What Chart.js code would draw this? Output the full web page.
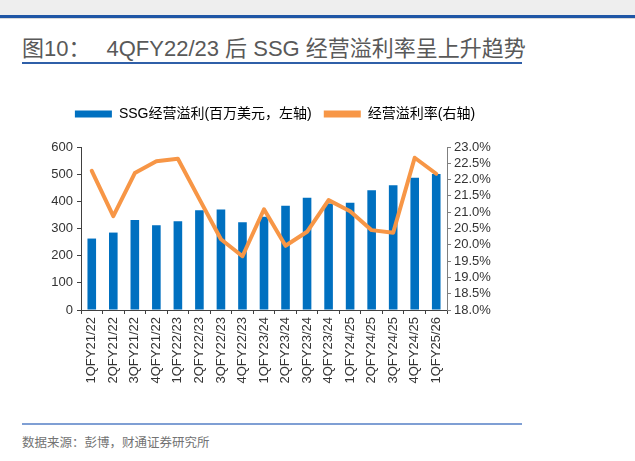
<!DOCTYPE html>
<html>
<head>
<meta charset="utf-8">
<script src="https://cdn.jsdelivr.net/npm/chart.js@4.4.1/dist/chart.umd.min.js"></script>
<style>
  body { margin: 0; width: 635px; height: 461px; background: #fff; position: relative; overflow: hidden;
         font-family: "Liberation Sans", Arial, "Noto Sans CJK SC", sans-serif; }
  #band { position: absolute; left: 0; top: 0; width: 635px; height: 15px; background: #eeeeee; }
  #bandLine { position: absolute; left: 0; top: 15px; width: 635px; height: 3px; background: #1f56a5; }
  #bandLine2 { position: absolute; left: 0; top: 18px; width: 635px; height: 1px; background: #d9d9d9; }
  #title { position: absolute; left: 22px; top: 30px; font-size: 22px; font-weight: normal; color: #595959; white-space: nowrap; }
  #title span { margin-left: 16px; }
  #titleLine { position: absolute; left: 22px; top: 62px; width: 500px; height: 2px; background: #2f5fa8; }
  #srcLine { position: absolute; left: 22px; top: 423px; width: 500px; height: 2px; background: #7f9fd4; }
  #src { position: absolute; left: 22px; top: 432px; font-size: 12.5px; color: #737373; font-family: "Noto Sans CJK SC", sans-serif; }
  #wrap { position: absolute; left: 0; top: 95px; width: 635px; height: 310px; }
</style>
</head>
<body>
<div id="band"></div>
<div id="bandLine"></div>
<div id="bandLine2"></div>
<div id="title">图10：<span>4QFY22/23 后 SSG 经营溢利率呈上升趋势</span></div>
<div id="titleLine"></div>
<div id="wrap"><canvas id="chart" width="635" height="310"></canvas></div>
<div id="srcLine"></div>
<div id="src">数据来源：彭博，财通证券研究所</div>
<script>
// quarters shown on the x axis
const quarters = ["1QFY21/22", "2QFY21/22", "3QFY21/22", "4QFY21/22",
  "1QFY22/23", "2QFY22/23", "3QFY22/23", "4QFY22/23",
  "1QFY23/24", "2QFY23/24", "3QFY23/24", "4QFY23/24",
  "1QFY24/25", "2QFY24/25", "3QFY24/25", "4QFY24/25", "1QFY25/26"];

// SSG operating profit, USD mn (left axis)
const opProfit = [263, 285, 331, 312, 327, 367, 370, 323, 343, 384, 413, 392, 395, 441, 459, 487, 501];

// operating margin, % (right axis)
const opMargin = [22.27, 20.88, 22.2, 22.56, 22.64, 21.4, 20.17, 19.65, 21.09, 19.97, 20.4, 21.37, 21.03, 20.45, 20.37, 22.67, 22.18];

const BLUE = "#0070c0";
const ORANGE = "#f79646";
const AXIS = "#404040";

Chart.defaults.font.family = "'Liberation Sans', Arial, 'Noto Sans CJK SC', sans-serif";
Chart.defaults.color = "#333";

// push the plot area down a bit below the legend
const legendGap = {
  id: "legendGap",
  beforeInit(chart) {
    const fit = chart.legend.fit;
    chart.legend.fit = function () {
      fit.call(this);
      this.height += 16;
    };
  },
};

const chart = new Chart(document.getElementById("chart"), {
  type: "bar",
  data: {
    labels: quarters,
    datasets: [
      {
        type: "bar",
        label: "SSG经营溢利(百万美元，左轴)",
        data: opProfit,
        backgroundColor: BLUE,
        yAxisID: "y",
        barPercentage: 0.4,
        categoryPercentage: 1,
        order: 1,
      },
      {
        type: "line",
        label: "经营溢利率(右轴)",
        data: opMargin,
        borderColor: ORANGE,
        backgroundColor: ORANGE,
        borderWidth: 4,
        pointRadius: 0,
        tension: 0,
        borderJoinStyle: "round",
        borderCapStyle: "round",
        yAxisID: "y1",
        order: 0,
      },
    ],
  },
  options: {
    responsive: false,
    animation: false,
    layout: { padding: { left: 28, right: 113, top: 0, bottom: 0 } },
    plugins: {
      tooltip: { enabled: false },
      legend: {
        position: "top",
        labels: {
          boxWidth: 37,
          boxHeight: 7,
          padding: 12,
          font: { size: 14, family: "'Liberation Sans', 'Noto Sans CJK SC', sans-serif" },
          color: "#333",
          sort: (a, b) => a.datasetIndex - b.datasetIndex,
          generateLabels: (c) => c.data.datasets.map((ds, i) => ({
            text: ds.label,
            fillStyle: ds.type === "line" ? ORANGE : BLUE,
            strokeStyle: ds.type === "line" ? ORANGE : BLUE,
            lineWidth: 0,
            datasetIndex: i,
          })),
        },
      },
    },
    scales: {
      x: {
        grid: { offset: true, drawOnChartArea: false, drawTicks: true, tickLength: 4, color: AXIS },
        border: { color: AXIS },
        ticks: { minRotation: 90, maxRotation: 90, autoSkip: false, font: { size: 13 }, color: "#333", padding: 3 },
        afterFit: (s) => { s.height = 95; },
      },
      y: {
        position: "left",
        min: 0,
        max: 600,
        ticks: { stepSize: 100, font: { size: 13 }, color: "#333", padding: 4 },
        grid: { drawOnChartArea: false, tickLength: 4, color: AXIS },
        border: { color: AXIS },
        afterFit: (s) => { s.width = 53; },
      },
      y1: {
        position: "right",
        min: 18,
        max: 23,
        ticks: { stepSize: 0.5, autoSkip: false, font: { size: 13 }, color: "#333", padding: 3,
                 callback: (v) => v.toFixed(1) + "%" },
        grid: { drawOnChartArea: false, tickLength: 4, color: "#7f7f7f" },
        border: { color: "#7f7f7f" },
        afterFit: (s) => { s.width = 75; },
      },
    },
  },
  plugins: [legendGap],
});
</script>
</body>
</html>
